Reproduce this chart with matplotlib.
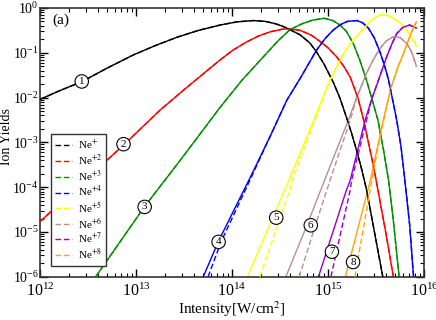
import numpy as np
import matplotlib.pyplot as plt
from matplotlib.ticker import LogLocator, NullFormatter

# estilo tipo xmgrace (Times)
plt.rcParams['font.family'] = 'serif'
plt.rcParams['font.serif'] = ['Liberation Serif', 'DejaVu Serif']
plt.rcParams['mathtext.fontset'] = 'stix'
plt.rcParams['axes.unicode_minus'] = False

# ---- dados (log10 da intensidade, log10 do rendimento) ----
ne1_logI = [12.0, 12.2, 12.44, 12.71, 12.97, 13.2, 13.43, 13.65, 13.875, 14.05, 14.22,
            14.35, 14.45, 14.53, 14.60, 14.71, 14.81, 14.88, 14.96, 15.055, 15.125,
            15.19, 15.25, 15.30, 15.35, 15.40, 15.47, 15.57]
ne1_logY = [-2.04, -1.85, -1.64, -1.33, -1.05, -0.84, -0.65, -0.50, -0.38, -0.31, -0.28,
            -0.30, -0.35, -0.41, -0.48, -0.60, -0.78, -0.98, -1.26, -1.66, -2.02,
            -2.43, -2.83, -3.20, -3.60, -4.05, -4.85, -6.0]

ne2_logI = [12.0, 12.4, 12.875, 13.25, 13.53, 13.875, 14.01, 14.15, 14.27, 14.40, 14.53,
            14.62, 14.71, 14.82, 14.92, 15.0, 15.09, 15.16, 15.23, 15.31, 15.37, 15.47,
            15.52, 15.60, 15.68]
ne2_logY = [-4.77, -3.98, -3.05, -2.28, -1.77, -1.16, -0.94, -0.76, -0.63, -0.53, -0.47,
            -0.47, -0.50, -0.60, -0.75, -0.89, -1.09, -1.29, -1.54, -2.00, -2.50, -3.50,
            -4.07, -5.0, -6.0]

ne3_logI = [12.58, 13.09, 13.46, 13.875, 14.1, 14.36, 14.48, 14.60, 14.72, 14.84, 14.96,
            15.05, 15.125, 15.19, 15.26, 15.33, 15.40, 15.47, 15.52, 15.58, 15.63, 15.68,
            15.74]
ne3_logY = [-6.0, -4.43, -3.40, -2.22, -1.62, -1.01, -0.73, -0.49, -0.36, -0.27, -0.23,
            -0.28, -0.38, -0.52, -0.78, -1.16, -1.61, -2.13, -2.51, -3.20, -3.85, -4.75,
            -6.0]

ne4_logI = [13.70, 13.86, 14.19, 14.40, 14.57, 14.71, 14.88, 14.97, 15.055, 15.13, 15.20,
            15.30, 15.36, 15.42, 15.48, 15.54, 15.59, 15.63, 15.68, 15.715, 15.76, 15.80,
            15.85, 15.89]
ne4_logY = [-6.0, -5.2, -3.78, -2.85, -2.06, -1.57, -0.94, -0.68, -0.49, -0.37, -0.30,
            -0.28, -0.33, -0.45, -0.66, -0.98, -1.30, -1.61, -2.13, -2.51, -3.10, -3.85,
            -4.85, -6.0]

ne5_logI = [14.16, 14.59, 14.85, 14.99, 15.06, 15.125, 15.19, 15.26, 15.37, 15.45, 15.54,
            15.62, 15.70, 15.76, 15.82, 15.87, 15.92]
ne5_logY = [-6.0, -3.85, -2.51, -1.76, -1.43, -1.16, -0.92, -0.72, -0.46, -0.27, -0.15,
            -0.17, -0.25, -0.35, -0.50, -0.66, -0.85]

ne6_logI = [14.56, 14.78, 14.99, 15.21, 15.30, 15.40, 15.46, 15.51, 15.56, 15.61, 15.68,
            15.75, 15.82, 15.87, 15.92]
ne6_logY = [-6.0, -4.85, -3.70, -2.51, -1.99, -1.46, -1.20, -1.01, -0.85, -0.73, -0.64,
            -0.66, -0.79, -0.98, -1.30]

ne7_logI = [14.90, 15.19, 15.23, 15.385, 15.45, 15.51, 15.61, 15.665, 15.715, 15.78,
            15.85, 15.92]
ne7_logY = [-6.0, -4.07, -3.85, -2.51, -2.06, -1.70, -1.09, -0.80, -0.57, -0.43,
            -0.38, -0.45]

ne8_logI = [15.18, 15.44, 15.52, 15.58, 15.66, 15.73, 15.78, 15.84, 15.88, 15.92]
ne8_logY = [-6.0, -3.85, -3.05, -2.45, -1.75, -1.30, -1.05, -0.70, -0.48, -0.31]

# curvas tracejadas: parte inicial (depois seguem a curva continua)
ne4_dash_logI = [13.75, 13.89, 14.20]
ne4_dash_logY = [-6.0, -5.2, -3.78]
ne5_dash_logI = [14.29, 14.60, 14.625, 14.94]
ne5_dash_logY = [-6.0, -4.07, -3.85, -2.06]
ne6_dash_logI = [14.70, 14.86, 15.02, 15.23]
ne6_dash_logY = [-6.0, -4.90, -3.85, -2.51]
ne7_dash_logI = [15.03, 15.23, 15.245, 15.40]
ne7_dash_logY = [-6.0, -4.07, -3.85, -2.51]
ne8_dash_logI = [15.28, 15.455, 15.53, 15.62]
ne8_dash_logY = [-6.0, -3.85, -3.00, -2.10]

ions = ['Ne$^{+}$', 'Ne$^{+2}$', 'Ne$^{+3}$', 'Ne$^{+4}$',
        'Ne$^{+5}$', 'Ne$^{+6}$', 'Ne$^{+7}$', 'Ne$^{+8}$']
cores = ['black', 'red', '#009000', 'blue', '#ffff00', '#bc8f8f', '#9400d3', '#ffa500']

solid = [(ne1_logI, ne1_logY), (ne2_logI, ne2_logY), (ne3_logI, ne3_logY),
         (ne4_logI, ne4_logY), (ne5_logI, ne5_logY), (ne6_logI, ne6_logY),
         (ne7_logI, ne7_logY), (ne8_logI, ne8_logY)]
dash = [None, None, None,
        (ne4_dash_logI, ne4_dash_logY), (ne5_dash_logI, ne5_dash_logY),
        (ne6_dash_logI, ne6_dash_logY), (ne7_dash_logI, ne7_dash_logY),
        (ne8_dash_logI, ne8_dash_logY)]

# rotulos numerados (posicao em log10)
rot_num = ['1', '2', '3', '4', '5', '6', '7', '8']
rot_logI = [12.435, 12.87, 13.09, 13.86, 14.46, 14.82, 15.04, 15.26]
rot_logY = [-1.64, -3.04, -4.44, -5.22, -4.68, -4.85, -5.44, -5.67]

fig = plt.figure(figsize=(4.36, 3.20), dpi=100)
ax = fig.add_axes([0.0917, 0.135, 0.881, 0.840])

handles = []
for i in range(8):
    x = np.array(solid[i][0])
    y = np.array(solid[i][1])
    ax.plot(10**x, 10**y, '-', color=cores[i], lw=1.0, zorder=2)
    if dash[i] is None:
        xd, yd = x, y
    else:
        xd0 = np.array(dash[i][0])
        yd0 = np.array(dash[i][1])
        resto = x > xd0[-1]
        xd = np.concatenate([xd0, x[resto]])
        yd = np.concatenate([yd0, y[resto]])
    h, = ax.plot(10**xd, 10**yd, color=cores[i], lw=1.0,
                 linestyle=(0, (4, 2)), label=ions[i], zorder=3)
    handles.append(h)

for t, lx, ly in zip(rot_num, rot_logI, rot_logY):
    ax.text(10**lx, 10**ly, t, ha='center', va='center', fontsize=8, zorder=5,
            bbox=dict(boxstyle='circle,pad=0.2', facecolor='white',
                      edgecolor='black', lw=0.8))

ax.set_xscale('log')
ax.set_yscale('log')
ax.set_xlim(1e12, 1e16)
ax.set_ylim(1e-6, 1)

ax.xaxis.set_major_locator(LogLocator(base=10, numticks=10))
ax.xaxis.set_minor_locator(LogLocator(base=10, subs=np.arange(2, 10), numticks=20))
ax.yaxis.set_major_locator(LogLocator(base=10, numticks=10))
ax.yaxis.set_minor_locator(LogLocator(base=10, subs=np.arange(2, 10), numticks=20))
ax.xaxis.set_minor_formatter(NullFormatter())
ax.yaxis.set_minor_formatter(NullFormatter())

ax.tick_params(which='both', direction='in', top=True, right=True)
ax.tick_params(which='major', length=6, width=1.0)
ax.tick_params(which='minor', length=3, width=0.8)
ax.tick_params(axis='x', pad=4, labelsize=11.5)
ax.tick_params(axis='y', pad=1, labelsize=10)
for s in ax.spines.values():
    s.set_linewidth(1.2)
    s.set_color('#333333')

ax.set_xlabel('Intensity[W/cm$^{2}$]', fontsize=11, labelpad=0)
ax.set_ylabel('Ion Yields', fontsize=10)
ax.yaxis.set_label_coords(-0.071, 0.52)
ax.text(0.031, 0.955, '(a)', transform=ax.transAxes, fontsize=11, va='center')

leg = ax.legend(handles=handles, loc='upper left', bbox_to_anchor=(0.0286, 0.531),
                borderaxespad=0, fontsize=8, handlelength=1.5, handletextpad=0.6,
                labelspacing=0.06, borderpad=0.35, fancybox=False, framealpha=1)
leg.get_frame().set_edgecolor('#333333')
leg.get_frame().set_linewidth(1.0)

plt.savefig('out.png', dpi=100)
